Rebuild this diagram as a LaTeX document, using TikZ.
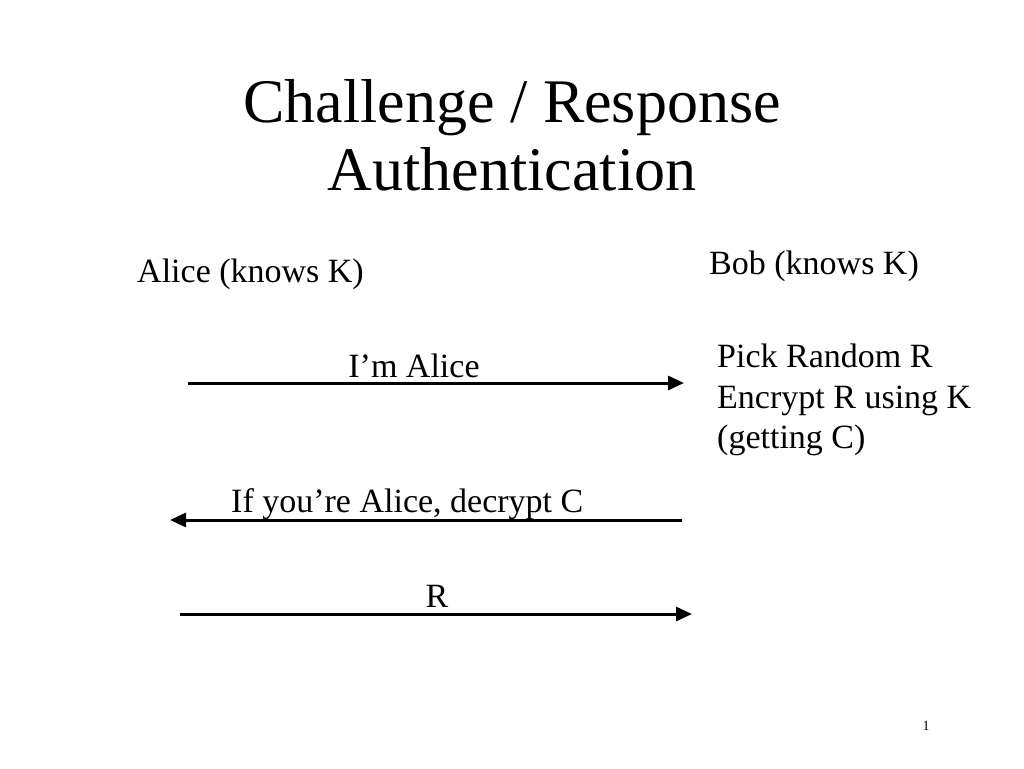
\documentclass[tikz,border=0pt]{standalone}
\usepackage{fontspec}
\setmainfont{Liberation Serif}
\usetikzlibrary{arrows.meta}
\begin{document}
\begin{tikzpicture}[x=1pt,y=-1pt,
  txt/.style={inner sep=0pt,font=\fontsize{34}{40}\selectfont},
  ttl/.style={inner sep=0pt,font=\fontsize{62}{68}\selectfont},
  msg/.style={line width=3pt,-{Triangle[length=16pt,width=14pt]}}]
\useasboundingbox (0,0) rectangle (1024,768);
\node[ttl,anchor=base] (t1) at (512,122) {Challenge / Response};
\node[ttl,anchor=base] (t2) at (512,190) {Authentication};
\node[txt,anchor=base west] (alice) at (137,282) {Alice (knows K)};
\node[txt,anchor=base west] (bob) at (709,274) {Bob (knows K)};
\node[txt,anchor=base west] (p1) at (717,367) {Pick Random R};
\node[txt,anchor=base west] (p2) at (717,408) {Encrypt R using K};
\node[txt,anchor=base west] (p3) at (717,448) {(getting C)};
\node[txt,anchor=base] (m1) at (414,377) {I’m Alice};
\node[txt,anchor=base west] (m2) at (231,512) {If you’re Alice, decrypt C};
\node[txt,anchor=base] (m3) at (437,607) {R};
\node[inner sep=0pt,anchor=base,font=\fontsize{14}{16}\selectfont] (pg) at (926,730) {1};
\coordinate (a1s) at (188,383); \coordinate (a1e) at (684,383);
\coordinate (a2s) at (682,520); \coordinate (a2e) at (170,520);
\coordinate (a3s) at (180,614); \coordinate (a3e) at (692,614);
\draw[msg] (a1s) -- (a1e);
\draw[msg] (a2s) -- (a2e);
\draw[msg] (a3s) -- (a3e);
\end{tikzpicture}
\end{document}
